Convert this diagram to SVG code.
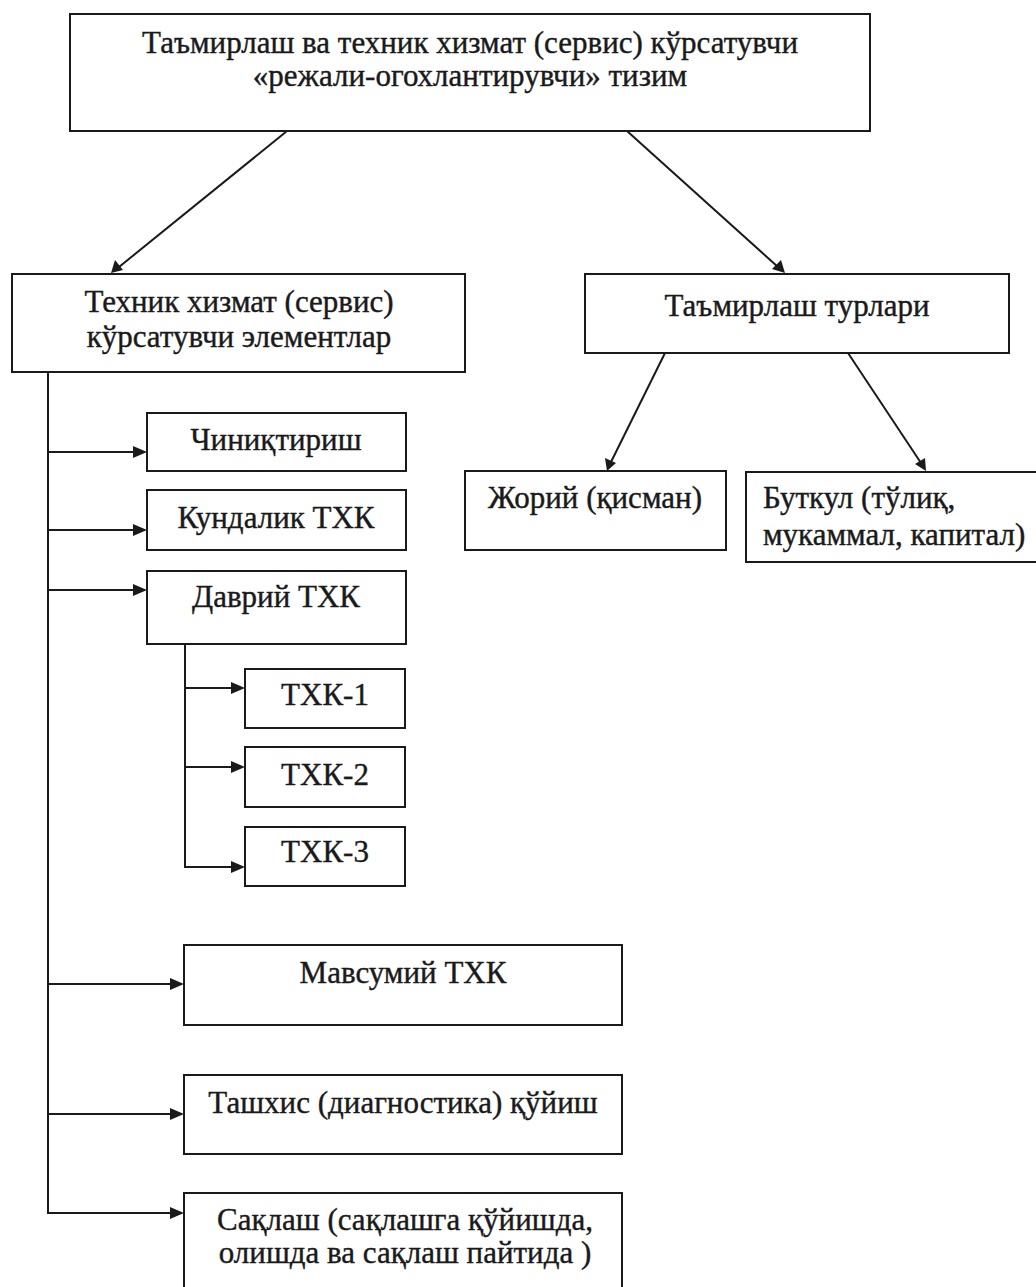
<svg xmlns="http://www.w3.org/2000/svg" width="1036" height="1287" viewBox="0 0 1036 1287">
<style>
.box{fill:#fff;stroke:#1a1a1a;stroke-width:2}
.t{font-family:'Liberation Serif','Times New Roman',serif;font-size:31px;fill:#1a1a1a;stroke:#1a1a1a;stroke-width:0.4;text-anchor:middle}
.tl{text-anchor:start}
.c{fill:none;stroke:#1a1a1a;stroke-width:2}
.arr{fill:#1a1a1a}
</style>
<rect width="1036" height="1287" fill="#fff"/>
<g id="connectors">
<line class="c" x1="287" y1="131" x2="119" y2="267"/>
<path class="arr" d="M111,273 L115,260 L123,270 Z"/>
<line class="c" x1="627" y1="131" x2="778" y2="267"/>
<path class="arr" d="M785,273 L772,269 L781,260 Z"/>
<line class="c" x1="665" y1="353" x2="611" y2="462"/>
<path class="arr" d="M607,471 L605,458 L616,463 Z"/>
<line class="c" x1="848" y1="353" x2="921" y2="463"/>
<path class="arr" d="M926,471 L915,464 L925,458 Z"/>
<polyline class="c" points="48,372 48,1213 172,1213"/>
<path class="arr" d="M184,1213 L170,1207 L170,1219 Z"/>
<line class="c" x1="48" y1="452" x2="136" y2="452"/>
<path class="arr" d="M147,452 L133,446 L133,458 Z"/>
<line class="c" x1="48" y1="530" x2="136" y2="530"/>
<path class="arr" d="M147,530 L133,524 L133,536 Z"/>
<line class="c" x1="48" y1="590" x2="136" y2="590"/>
<path class="arr" d="M147,590 L133,584 L133,596 Z"/>
<line class="c" x1="48" y1="984" x2="172" y2="984"/>
<path class="arr" d="M184,984 L170,978 L170,990 Z"/>
<line class="c" x1="48" y1="1114" x2="172" y2="1114"/>
<path class="arr" d="M184,1114 L170,1108 L170,1120 Z"/>
<polyline class="c" points="185,644 185,867 234,867"/>
<path class="arr" d="M245,867 L231,861 L231,873 Z"/>
<line class="c" x1="185" y1="688" x2="234" y2="688"/>
<path class="arr" d="M245,688 L231,682 L231,694 Z"/>
<line class="c" x1="185" y1="767" x2="234" y2="767"/>
<path class="arr" d="M245,767 L231,761 L231,773 Z"/>
</g>
<g id="root">
<rect class="box" x="70" y="14" width="800" height="117"/>
<text class="t" x="470" y="53">Таъмирлаш ва техник хизмат (сервис) кўрсатувчи</text>
<text class="t" x="470" y="86">«режали-огохлантирувчи» тизим</text>
</g>
<g id="service">
<rect class="box" x="12" y="274" width="453" height="98"/>
<text class="t" x="239" y="312">Техник хизмат (сервис)</text>
<text class="t" x="239" y="347">кўрсатувчи элементлар</text>
</g>
<g id="repair">
<rect class="box" x="585" y="274" width="424" height="79"/>
<text class="t" x="797" y="316">Таъмирлаш турлари</text>
</g>
<g id="current">
<rect class="box" x="465" y="471" width="261" height="79"/>
<text class="t" x="595" y="508">Жорий (қисман)</text>
</g>
<g id="full">
<rect class="box" x="746" y="472" width="300" height="90"/>
<text class="t tl" x="763" y="508">Буткул (тўлиқ,</text>
<text class="t tl" x="763" y="545">мукаммал, капитал)</text>
</g>
<g id="chiniq">
<rect class="box" x="147" y="413" width="259" height="58"/>
<text class="t" x="276" y="450">Чиниқтириш</text>
</g>
<g id="kundalik">
<rect class="box" x="147" y="490" width="259" height="60"/>
<text class="t" x="276" y="528">Кундалик ТХК</text>
</g>
<g id="davriy">
<rect class="box" x="147" y="571" width="259" height="73"/>
<text class="t" x="276" y="607">Даврий ТХК</text>
</g>
<g id="txk1">
<rect class="box" x="245" y="669" width="160" height="59"/>
<text class="t" x="325" y="705">ТХК-1</text>
</g>
<g id="txk2">
<rect class="box" x="245" y="747" width="160" height="60"/>
<text class="t" x="325" y="785">ТХК-2</text>
</g>
<g id="txk3">
<rect class="box" x="245" y="827" width="160" height="59"/>
<text class="t" x="325" y="862">ТХК-3</text>
</g>
<g id="mavsumiy">
<rect class="box" x="184" y="945" width="438" height="80"/>
<text class="t" x="403" y="983">Мавсумий ТХК</text>
</g>
<g id="tashxis">
<rect class="box" x="184" y="1075" width="438" height="79"/>
<text class="t" x="403" y="1113">Ташхис (диагностика) қўйиш</text>
</g>
<g id="saqlash">
<rect class="box" x="184" y="1193" width="438" height="110"/>
<text class="t" x="405" y="1230">Сақлаш (сақлашга қўйишда,</text>
<text class="t" x="405" y="1263">олишда ва сақлаш пайтида  )</text>
</g>
</svg>
